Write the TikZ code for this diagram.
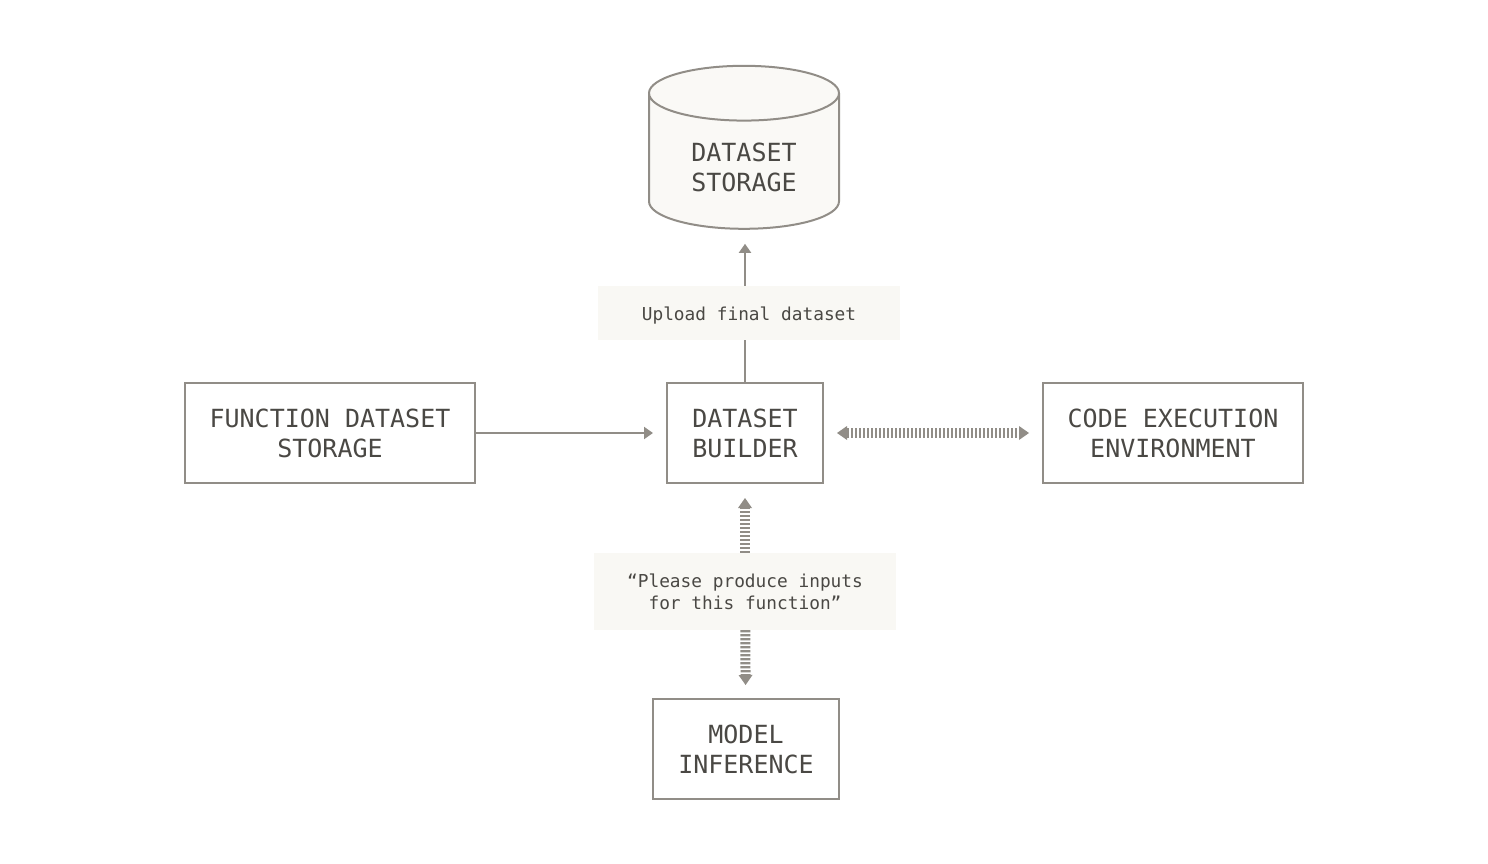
\documentclass[tikz,border=0pt]{standalone}
\usepackage{fontspec}
\setmonofont{DejaVu Sans Mono}
\usetikzlibrary{positioning,shapes.geometric,arrows.meta}
\definecolor{lineColor}{RGB}{145,141,135}
\definecolor{textColor}{RGB}{74,72,68}
\definecolor{labelFill}{RGB}{249,248,244}
\definecolor{storeFill}{RGB}{250,249,246}
\tikzset{stripeTip/.tip={Triangle[line width=0pt, length=10pt, width=14pt]}}
\tikzset{plainTip/.tip={Triangle[length=9pt, width=12pt]}}
\tikzstyle{diagram} = [x = 1pt, y = -1pt]
\tikzstyle{boxStyle} = [draw=lineColor, line width=2pt, text=textColor, font=\ttfamily\fontsize{25}{30}\selectfont, align=center, minimum height=100pt, inner sep=0pt]
\tikzstyle{storeStyle} = [boxStyle, fill=storeFill, cylinder, shape border rotate=90, aspect=0.52, minimum width=190pt, minimum height=163pt, text height=61pt]
\tikzstyle{labelStyle} = [fill=labelFill, text=textColor, font=\ttfamily\fontsize{17.8}{22}\selectfont, align=center, minimum width=302pt, inner sep=0pt]
\tikzstyle{plainLine} = [draw=lineColor, line width=2pt]
\tikzstyle{plainArrow} = [plainLine, -plainTip]
\tikzstyle{stripeArrow} = [draw=lineColor, line width=10pt, dash pattern=on 2.2pt off 1.8pt, -stripeTip]
\tikzstyle{stripeBoth} = [stripeArrow, stripeTip-stripeTip]

\begin{document}
\begin{tikzpicture}[diagram]
  \useasboundingbox (0,0) rectangle (1488,864);
  \node [storeStyle] (datasetStore) at (744,161.5) {DATASET\\STORAGE};
  \node [labelStyle, minimum height=54pt, text height=19pt] (uploadLabel) at (749,313) {Upload final dataset};
  \node [boxStyle, minimum width=156pt] (datasetBuilder) at (745,433) {DATASET\\BUILDER};
  \node [boxStyle, minimum width=290pt] (functionStore) at (330,433) {FUNCTION DATASET\\STORAGE};
  \node [boxStyle, minimum width=260pt] (codeEnv) at (1173,433) {CODE EXECUTION\\ENVIRONMENT};
  \node [labelStyle, minimum height=77pt] (promptLabel) at (745,591.5) {\char"201C Please produce inputs\\for this function\char"201D};
  \node [boxStyle, minimum width=186pt] (modelInference) at (746,749) {MODEL\\INFERENCE};

  \draw [plainLine] (datasetBuilder.north) -- (datasetBuilder.north |- uploadLabel.south);
  \draw [plainArrow, shorten >=14pt] (datasetBuilder.north |- uploadLabel.north) -- (datasetBuilder.north |- datasetStore.south);
  \draw [plainArrow, shorten >=13pt] (functionStore) -- (datasetBuilder);
  \draw [stripeBoth, shorten <=13pt, shorten >=13pt] (datasetBuilder.east) -- (codeEnv.west);
  \draw [stripeArrow, shorten >=14pt] (promptLabel) -- (datasetBuilder);
  \draw [stripeArrow, shorten >=13pt] (promptLabel) -- (modelInference);
\end{tikzpicture}
\end{document}
